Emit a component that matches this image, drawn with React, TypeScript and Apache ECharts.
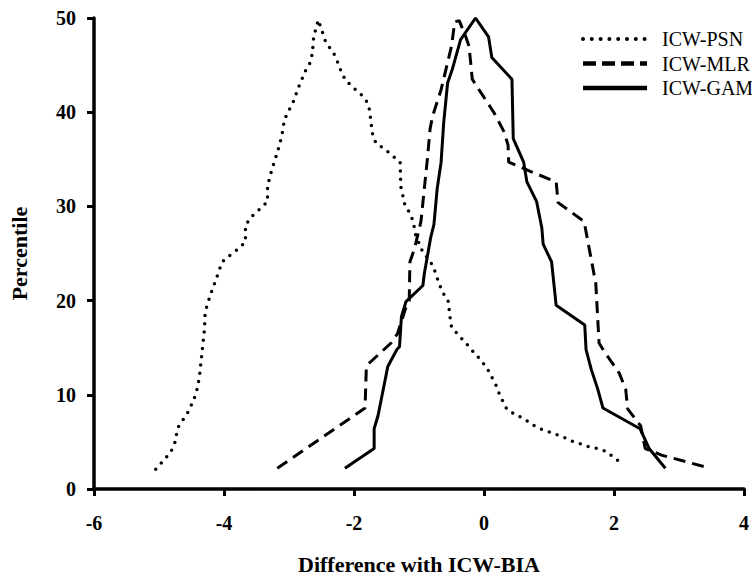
import React, { useEffect, useRef } from "react";
import * as echarts from "echarts";

const seriesNames = ["ICW-PSN", "ICW-MLR", "ICW-GAM"];

const psnX = [-5.05, -4.82, -4.76, -4.71, -4.54, -4.43, -4.38, -4.34, -4.3, -4.29, -4.21, -4.12, -4.03, -3.91, -3.78, -3.67, -3.67, -3.58, -3.45, -3.33, -3.33, -3.26, -3.18, -3.11, -3.07, -3.01, -2.94, -2.85, -2.74, -2.67, -2.64, -2.62, -2.55, -2.49, -2.45, -2.37, -2.29, -2.19, -2.13, -2.01, -1.88, -1.79, -1.76, -1.73, -1.71, -1.66, -1.53, -1.41, -1.29, -1.28, -1.25, -1.23, -1.16, -1.1, -1.07, -1.05, -0.94, -0.83, -0.77, -0.68, -0.62, -0.55, -0.52, -0.5, -0.39, -0.28, -0.17, -0.05, 0.05, 0.11, 0.18, 0.23, 0.29, 0.35, 0.48, 0.61, 0.73, 0.86, 0.99, 1.11, 1.23, 1.35, 1.48, 1.61, 1.74, 1.88, 1.99, 2.12];
const psnY = [2.1, 3.9, 4.8, 6.5, 8.3, 10.1, 11.8, 14.4, 17.0, 18.8, 20.6, 22.3, 24.1, 24.8, 25.5, 26.2, 28.0, 28.9, 29.7, 30.5, 32.2, 34.0, 35.7, 37.5, 39.2, 40.1, 41.0, 42.7, 44.5, 45.3, 46.3, 48.0, 49.8, 48.6, 47.7, 46.8, 46.0, 44.2, 43.4, 42.6, 41.8, 41.0, 40.2, 38.4, 37.5, 36.7, 36.1, 35.4, 34.7, 32.1, 31.2, 30.4, 29.5, 28.6, 27.7, 26.9, 25.1, 24.2, 23.4, 21.6, 20.7, 19.9, 18.1, 17.2, 16.3, 15.5, 14.6, 13.7, 12.8, 12.0, 11.1, 10.2, 9.3, 8.5, 7.9, 7.5, 6.9, 6.4, 6.1, 5.8, 5.5, 5.1, 4.8, 4.5, 4.3, 4.0, 3.4, 2.7];

const mlrX = [-3.18, -1.83, -1.81, -1.76, -1.43, -1.33, -1.2, -1.15, -1.14, -1.07, -0.97, -0.87, -0.83, -0.79, -0.66, -0.5, -0.45, -0.38, -0.28, -0.23, -0.18, -0.05, 0.15, 0.31, 0.37, 0.38, 0.72, 1.11, 1.14, 1.54, 1.72, 1.77, 1.85, 2.08, 2.18, 2.21, 2.41, 2.48, 2.73, 3.48];
const mlrY = [2.2, 8.6, 13.0, 13.4, 15.5, 16.5, 19.3, 20.0, 24.1, 25.5, 28.4, 35.1, 38.2, 39.6, 42.4, 47.0, 49.6, 49.7, 48.0, 47.0, 43.5, 42.1, 40.0, 37.9, 36.5, 34.7, 33.7, 32.6, 30.4, 28.4, 21.8, 15.5, 14.6, 12.3, 10.6, 8.5, 6.7, 4.3, 3.6, 2.2];

const gamX = [-2.14, -1.69, -1.69, -1.63, -1.48, -1.34, -1.3, -1.27, -1.2, -0.94, -0.92, -0.82, -0.77, -0.72, -0.66, -0.62, -0.56, -0.49, -0.36, -0.13, 0.07, 0.12, 0.43, 0.45, 0.61, 0.66, 0.81, 0.89, 0.91, 1.04, 1.11, 1.55, 1.57, 1.65, 1.75, 1.83, 2.4, 2.54, 2.79];
const gamY = [2.2, 4.3, 6.4, 7.8, 13.0, 14.8, 15.1, 18.3, 19.9, 21.6, 22.8, 26.7, 28.1, 31.9, 34.7, 38.9, 43.1, 44.5, 47.7, 50.0, 48.0, 45.8, 43.5, 37.2, 34.7, 32.6, 30.5, 27.7, 26.0, 24.1, 19.5, 17.4, 14.8, 12.7, 10.6, 8.6, 6.4, 4.3, 2.2];

const xTitle = "Difference with ICW-BIA";
const yTitle = "Percentile";

const pairs = (xs: number[], ys: number[]) => xs.map((x, i) => [x, ys[i]]);

const FONT = "Liberation Serif";

const dashes: any[] = [
  { type: [0, 8.3], cap: "round", width: 3.5 },
  { type: [12, 7], cap: "butt", width: 3 },
  { type: "solid", cap: "butt", width: 3 },
];
const legendDashes: any[] = [[0, 8.8], [13, 6], null];
const legendWidths = [4, 4.5, 4.5];

export default function App() {
  const ref = useRef<HTMLDivElement>(null);
  useEffect(() => {
    if (!ref.current) return;
    const chart = echarts.init(ref.current, undefined, { renderer: "svg" });
    const axisLabel = { color: "#000", fontFamily: FONT, fontWeight: "bold" as const, fontSize: 20 };
    const nameStyle = { color: "#000", fontFamily: FONT, fontWeight: "bold" as const, fontSize: 22 };
    const legendEls: any[] = [];
    seriesNames.forEach((name, i) => {
      const y = 39 + i * 24.5;
      legendEls.push({
        type: "line",
        shape: { x1: 583, y1: y, x2: 647, y2: y },
        style: {
          stroke: "#000",
          lineWidth: legendWidths[i],
          lineDash: legendDashes[i] || undefined,
          lineCap: i === 0 ? "round" : "butt",
        },
      });
      legendEls.push({
        type: "text",
        x: 662,
        y,
        style: {
          text: name,
          fontFamily: FONT,
          fontSize: 20,
          fill: "#000",
          align: "left",
          verticalAlign: "middle",
        },
      });
    });
    chart.setOption({
      animation: false,
      backgroundColor: "#fff",
      grid: { left: 90, right: 6, top: 18, bottom: 86, containLabel: false },
      graphic: legendEls,
      xAxis: {
        type: "value",
        min: -6,
        max: 4,
        interval: 2,
        name: xTitle,
        nameLocation: "middle",
        nameGap: 64,
        nameTextStyle: nameStyle,
        axisLine: { onZero: false, lineStyle: { color: "#000", width: 3.5 } },
        axisTick: { show: true, length: 7, lineStyle: { color: "#000", width: 3 } },
        axisLabel: { ...axisLabel, margin: 24 },
        splitLine: { show: false },
      },
      yAxis: {
        type: "value",
        min: 0,
        max: 50,
        interval: 10,
        name: yTitle,
        nameLocation: "middle",
        nameGap: 64,
        nameTextStyle: nameStyle,
        axisLine: { show: true, onZero: false, lineStyle: { color: "#000", width: 3.5 } },
        axisTick: { show: true, length: 7, lineStyle: { color: "#000", width: 3 } },
        axisLabel: { ...axisLabel, margin: 18 },
        splitLine: { show: false },
      },
      series: [
        { data: pairs(psnX, psnY) },
        { data: pairs(mlrX, mlrY) },
        { data: pairs(gamX, gamY) },
      ].map((s, i) => ({
        name: seriesNames[i],
        type: "line",
        symbol: "none",
        data: s.data,
        lineStyle: { color: "#000", width: dashes[i].width, type: dashes[i].type, cap: dashes[i].cap },
        itemStyle: { color: "#000" },
      })),
    });
    return () => chart.dispose();
  }, []);
  return (
    <div
      ref={ref}
      style={{ position: "fixed", left: 0, top: 0, width: 752, height: 580, background: "#fff" }}
    />
  );
}
